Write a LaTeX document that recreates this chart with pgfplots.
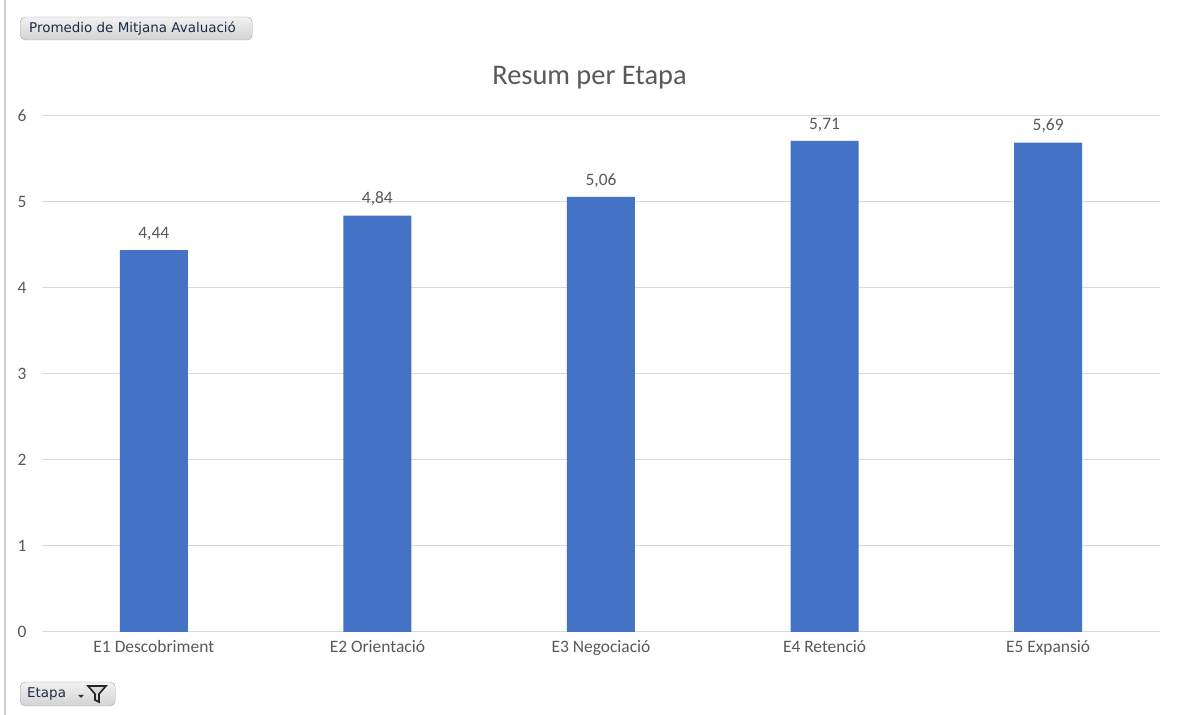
\documentclass[border=0pt]{standalone}
\usepackage{pgfplots}
\pgfplotsset{compat=1.18}
\usepackage{fontspec}
\setmainfont{Carlito}
\newfontfamily\btnfont{DejaVu Sans}
\definecolor{barblue}{HTML}{4472C4}
\definecolor{gridgray}{HTML}{D9D9D9}
\definecolor{txtgray}{HTML}{595959}
\definecolor{btntxt}{HTML}{1F2A44}
\begin{document}
\begin{tikzpicture}[x=1bp,y=1bp]
\useasboundingbox[fill=white] (0,0) rectangle (1179,715);
\draw[gray!40, line width=1.5bp] (5,0) -- (5,715);
\begin{axis}[
  at={(42bp,83bp)}, anchor=south west,
  scale only axis, width=1118bp, height=516bp,
  xmin=-0.5, xmax=4.5, ymin=0, ymax=6,
  ytick={0,1,2,3,4,5,6},
  xtick=data,
  xticklabels={E1 Descobriment, E2 Orientació, E3 Negociació, E4 Retenció, E5 Expansió},
  ymajorgrids, grid style={gridgray, line width=1bp},
  axis line style={draw=none},
  major tick length=0pt,
  ybar, bar width=68bp,
  /pgf/number format/assume math mode=true,
  tick label style={font=\fontsize{17.5}{21}\selectfont, text=txtgray},
  yticklabel style={xshift=-12bp},
  xticklabel style={yshift=-5bp},
  nodes near coords,
  nodes near coords style={font=\fontsize{17.5}{21}\selectfont, text=txtgray,
    /pgf/number format/fixed, /pgf/number format/fixed zerofill,
    /pgf/number format/precision=2, /pgf/number format/use comma,
    /pgf/number format/assume math mode=true, yshift=6bp},
]
\addplot[fill=barblue, draw=none] coordinates {(0,4.44) (1,4.84) (2,5.06) (3,5.71) (4,5.69)};
\end{axis}
\node[text=txtgray, font=\fontsize{28.5}{32}\selectfont] at (589.5,637) {Resum per Etapa};
\node[anchor=west, draw=gray!70, rounded corners=5bp, top color=gray!10, bottom color=gray!35,
  minimum width=232bp, minimum height=23bp, inner sep=0pt] (b1) at (20,686.5) {};
\node[anchor=west, inner sep=0pt, text=btntxt, font=\btnfont\fontsize{13.5}{15}\selectfont] at (29,686.5) {Promedio de Mitjana Avaluació};
\node[anchor=west, draw=gray!70, rounded corners=5bp, top color=gray!10, bottom color=gray!35,
  minimum width=95bp, minimum height=24bp, inner sep=0pt] (b2) at (20,21) {};
\node[anchor=west, inner sep=0pt, text=btntxt, font=\btnfont\fontsize{13.5}{15}\selectfont] at (27,21) {Etapa};
\fill[black!80] (78,20) -- (84,20) -- (81,17) -- cycle;
\draw[black!85, line width=1.6bp, fill=gray!30] (88,29) -- (106,29) -- (99,21) -- (99,13) -- (95,15) -- (95,21) -- cycle;
\end{tikzpicture}
\end{document}
